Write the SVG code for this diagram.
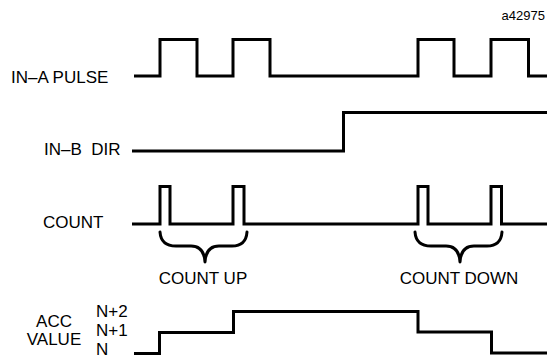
<svg xmlns="http://www.w3.org/2000/svg" width="547" height="358" viewBox="0 0 547 358">
<style>
text{font-family:"Liberation Sans",Arial,sans-serif;font-size:17px;fill:#000}
.w{fill:none;stroke:#000;stroke-width:3;stroke-linejoin:miter;stroke-linecap:butt}
.b{fill:none;stroke:#000;stroke-width:3;stroke-linecap:round;stroke-linejoin:round}
</style>
<rect width="547" height="358" fill="#fff"/>
<text x="545" y="20" text-anchor="end" style="font-size:13px">a42975</text>
<g id="in-a">
<text x="11" y="82.5">IN–A PULSE</text>
<path class="w" d="M134,76 H160 V39.5 H197 V76 H233 V39.5 H270 V76 H418 V39.5 H454 V76 H491 V39.5 H528.5 V76 H547"/>
</g>
<g id="in-b">
<text x="44" y="155" xml:space="preserve">IN–B  DIR</text>
<path class="w" d="M132,151 H343.5 V112.5 H547"/>
</g>
<g id="count">
<text x="43" y="228">COUNT</text>
<path class="w" d="M132,224 H160 V186.5 H170 V224 H233 V186.5 H244 V224 H418 V186.5 H428 V224 H491 V186.5 H501.5 V224 H547"/>
</g>
<g id="count-up">
<path class="b" d="M160,232 Q161,246 176,246 L191,246 Q204,246 205,262 Q206,246 219,246 L232,246 Q246,246 247,232"/>
<text x="203" y="284" text-anchor="middle">COUNT UP</text>
</g>
<g id="count-down">
<path class="b" d="M415,232 Q416,246 431,246 L446,246 Q459,246 460,262 Q461,246 474,246 L487,246 Q501,246 502,232"/>
<text x="459" y="284" text-anchor="middle">COUNT DOWN</text>
</g>
<g id="acc">
<text x="54" y="326.5" text-anchor="middle">ACC</text>
<text x="54" y="345" text-anchor="middle">VALUE</text>
<text x="96" y="317">N+2</text>
<text x="96" y="336">N+1</text>
<text x="96" y="355">N</text>
<path class="w" d="M134,353.5 H159.5 V332.5 H233.5 V311.5 H418 V332 H491.5 V353 H547"/>
</g>
</svg>
